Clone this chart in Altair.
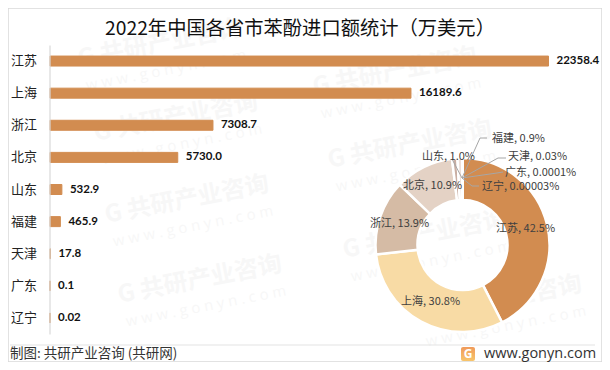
import altair as alt
import pandas as pd

FONT = "Noto Sans CJK SC"
provinces = ["江苏", "上海", "浙江", "北京", "山东", "福建", "天津", "广东", "辽宁"]
amounts = [22358.4, 16189.6, 7308.7, 5730.0, 532.9, 465.9, 17.8, 0.1, 0.02]
amount_labels = ["22358.4", "16189.6", "7308.7", "5730.0", "532.9", "465.9", "17.8", "0.1", "0.02"]
shares = [42.5, 30.8, 13.9, 10.9, 1.0, 0.9, 0.03, 0.0001, 0.00003]
share_labels = ["42.5%", "30.8%", "13.9%", "10.9%", "1.0%", "0.9%", "0.03%", "0.0001%", "0.00003%"]
slice_colors = ["#D28C50", "#F8DBA5", "#D5BBA5", "#E4D2C5", "#C9AEA2", "#EDDFD8", "#E8D8C8", "#F0E4D8", "#F5EDE4"]

# layout, in page pixels of the reference
OFF = 8
label_x = [496, 401, 370, 403, 422, 492, 508, 505, 482]
label_y = [229, 302, 224, 186, 157, 139, 157, 173, 187]
segments = [
    (462, 178, 452, 159), (462, 178, 480, 138), (480, 138, 487, 138),
    (462, 178, 498, 158), (498, 158, 506, 158),
    (462, 178, 497, 173), (497, 173, 503, 172),
    (462, 178, 472, 186), (472, 186, 479, 186),
]
stamps = [(160, 44), (395, 72), (176, 118), (187, 200), (200, 280), (410, 145), (425, 235), (500, 300)]

W, H = 594, 354
df = pd.DataFrame({"省份": provinces, "金额": amounts, "标签": amount_labels,
                   "占比": shares, "顺序": range(len(provinces)),
                   "饼标签": [f"{p}, {s}" for p, s in zip(provinces, share_labels)],
                   "lx": [v - OFF for v in label_x], "ly": [v - OFF for v in label_y]})

px = lambda f: alt.X(f"{f}:Q", scale=None, axis=None)
py = lambda f: alt.Y(f"{f}:Q", scale=None, axis=None)

wm = pd.DataFrame({"x": [s[0] - OFF for s in stamps], "y": [s[1] - OFF for s in stamps]})
wm_cn = alt.Chart(wm).transform_calculate(t="'G 共研产业咨询'").mark_text(
    font=FONT, fontWeight="bold", fontSize=24, angle=349, color="#F7F7F7"
).encode(x=px("x"), y=py("y"), text="t:N")
wm_en = alt.Chart(wm).transform_calculate(t="'w w w . g o n y n . c o m'", x2="datum.x+6", y2="datum.y+26").mark_text(
    font="Open Sans", fontSize=15, angle=349, color="#F7F7F7"
).encode(x=px("x2"), y=py("y2"), text="t:N")

x_scale = alt.Scale(domain=[0, 22358.4], range=[50 - OFF, 548.5 - OFF])
y_scale = alt.Scale(domain=provinces, range=[45 - OFF, 334 - OFF], paddingInner=0.66, paddingOuter=0.33)

bars = alt.Chart(df).mark_bar(color="#D28C50", stroke="#D28C50", strokeWidth=1, size=10).encode(
    x=alt.X("金额:Q", scale=x_scale, axis=None),
    y=alt.Y("省份:N", scale=y_scale, sort=provinces, title=None,
            axis=alt.Axis(offset=-41.5, ticks=False, domainColor="#D9D9D9", domainWidth=1.2, zindex=1,
                          labelFont=FONT, labelFontSize=13, labelColor="#222222", labelPadding=13, grid=False)),
)
values = alt.Chart(df).mark_text(font="Lato", fontWeight="bold", fontSize=11.5, color="#111111", align="left", dx=8).encode(
    x=alt.X("金额:Q", scale=x_scale, axis=None),
    y=alt.Y("省份:N", scale=y_scale, sort=provinces, axis=None),
    text="标签:N",
)

donut = alt.Chart(df).mark_arc(radius=87, radius2=45, stroke="white", strokeWidth=2.5).encode(
    theta=alt.Theta("占比:Q", stack=True),
    order=alt.Order("顺序:Q"),
    color=alt.Color("省份:N", scale=alt.Scale(domain=provinces, range=slice_colors), legend=None),
    x=alt.value(462.5 - OFF), y=alt.value(245 - OFF),
)

seg = pd.DataFrame(segments, columns=["a", "b", "c", "d"]) - OFF
leaders = alt.Chart(seg).mark_rule(color="#A6A6A6", strokeWidth=1).encode(
    x=px("a"), y=py("b"), x2="c:Q", y2="d:Q")

pie_text = alt.Chart(df).mark_text(font=FONT, fontSize=11, color="#404040", align="left").encode(
    x=px("lx"), y=py("ly"), text="饼标签:N")

def note(text, x, y, **kw):
    return alt.Chart(pd.DataFrame({"t": [text]})).mark_text(baseline="middle", **kw).encode(
        x=alt.value(x - OFF), y=alt.value(y - OFF), text="t:N")

title = note("2022年中国各省市苯酚进口额统计（万美元）", 300, 29, font=FONT, fontSize=19.3, color="#111111", align="center")
source = note("制图: 共研产业咨询 (共研网)", 10, 353.5, font=FONT, fontSize=13.5, color="#333333", align="left")
site = note("www.gonyn.com", 484, 353.5, font="Open Sans", fontSize=14.5, color="#333333", align="left")

foot = alt.Chart(pd.DataFrame({"a": [0]})).mark_rule(color="#E3E3E3", strokeWidth=1).encode(
    x=alt.value(10 - OFF), x2=alt.value(595 - OFF), y=alt.value(345 - OFF))
logo = alt.Chart(pd.DataFrame({"a": [0]})).mark_rect(
    cornerRadius=2,
    color=alt.Gradient(gradient="linear", stops=[alt.GradientStop(color="#F09A5A", offset=0), alt.GradientStop(color="#F8C56B", offset=1)],
                       x1=0, x2=0, y1=0, y2=1)
).encode(x=alt.value(461 - OFF), x2=alt.value(475 - OFF), y=alt.value(347 - OFF), y2=alt.value(361 - OFF))
logo_g = note("G", 468, 354, font="Open Sans", fontWeight="bold", fontSize=12, color="white", align="center")

chart = alt.layer(wm_cn, wm_en, bars, values, donut, leaders, pie_text, title, source, site, foot, logo, logo_g).resolve_scale(
    x="independent", y="independent", theta="independent", color="independent"
).properties(width=W, height=H, padding=0, autosize=alt.AutoSizeParams(type="none"), background="white"
).configure_view(stroke="#D9D9D9", strokeWidth=1.5)

chart.save("out.html", embed_options={"renderer": "svg", "actions": False})
